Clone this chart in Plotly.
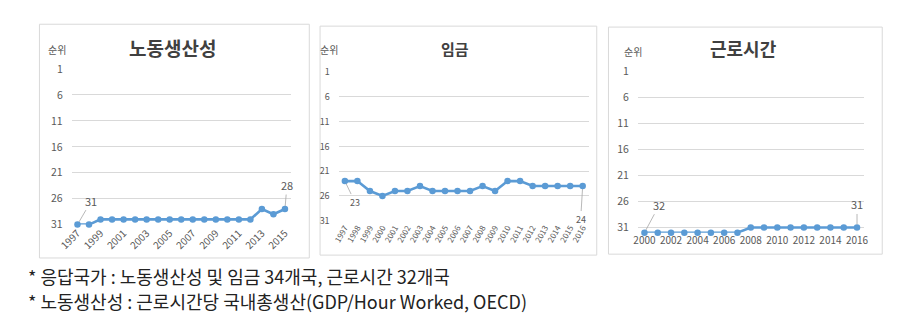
import plotly.graph_objects as go

W, H = 898, 327

# ---- data ----
years_prod = list(range(1997, 2016))
rank_prod = [31, 31, 30, 30, 30, 30, 30, 30, 30, 30, 30, 30, 30, 30, 30, 30, 28, 29, 28]

years_wage = list(range(1997, 2017))
rank_wage = [23, 23, 25, 26, 25, 25, 24, 25, 25, 25, 25, 24, 25, 23, 23, 24, 24, 24, 24, 24]

years_hours = list(range(2000, 2017))
rank_hours = [32, 32, 32, 32, 32, 32, 32, 32, 31, 31, 31, 31, 31, 31, 31, 31, 31]

y_ticks = [1, 6, 11, 16, 21, 26, 31]
titles = ["노동생산성", "임금", "근로시간"]
y_label = "순위"
notes = ["* 응답국가 : 노동생산성 및 임금 34개국, 근로시간 32개국",
         "* 노동생산성 : 근로시간당 국내총생산(GDP/Hour Worked, OECD)"]

FONT = "Noto Sans CJK KR"
BLUE = "#5B9BD5"
GRID = "#D9D9D9"
TICK = "#595959"


def px(x):
    return x / W


def py(y):
    return 1 - y / H


fig = go.Figure()

series = [
    (years_prod, rank_prod, "x", "y"),
    (years_wage, rank_wage, "x2", "y2"),
    (years_hours, rank_hours, "x3", "y3"),
]
for xs, ys, xa, ya in series:
    fig.add_trace(go.Scatter(
        x=xs, y=ys, xaxis=xa, yaxis=ya, mode="lines+markers",
        line=dict(color=BLUE, width=2.6),
        marker=dict(color=BLUE, size=6.5),
        cliponaxis=False, showlegend=False, hoverinfo="skip",
    ))

# panel geometry (pixels)
panels = [
    dict(box=(25, 17, 301, 262), xd=(58, 282), yd=(64, 227), yr=[31, 1],
         xs=years_prod, tickvals=years_prod[::2], angle=-45, tfs=10),
    dict(box=(312, 19, 595, 259), xd=(331, 587), yd=(67, 223), yr=[31, 1],
         xs=years_wage, tickvals=years_wage, angle=-60, tfs=8),
    dict(box=(607, 20, 887, 258), xd=(637, 868), yd=(66, 235.5), yr=[32, 1],
         xs=years_hours, tickvals=years_hours[::2], angle=0, tfs=10),
]

layout = {}
for i, p in enumerate(panels):
    s = "" if i == 0 else str(i + 1)
    layout["xaxis" + s] = dict(
        domain=[px(p["xd"][0]), px(p["xd"][1])],
        range=[p["xs"][0] - 0.5, p["xs"][-1] + 0.5],
        anchor="y" + s, tickvals=p["tickvals"], tickangle=p["angle"],
        showgrid=False, zeroline=False, showline=False,
        tickfont=dict(family=FONT, size=p["tfs"], color=TICK),
        fixedrange=True,
    )
    layout["yaxis" + s] = dict(
        domain=[py(p["yd"][1]), py(p["yd"][0])],
        range=p["yr"], anchor="x" + s, tickvals=y_ticks,
        showgrid=True, gridcolor=GRID, gridwidth=1, zeroline=False,
        showline=False, ticklabelstandoff=8,
        tickfont=dict(family=FONT, size=9 if i == 1 else 10.5, color=TICK),
        fixedrange=True,
    )
    b = p["box"]
    fig.add_shape(type="rect", xref="paper", yref="paper",
                  x0=px(b[0]), x1=px(b[2]), y0=py(b[3]), y1=py(b[1]),
                  line=dict(color=GRID, width=1), fillcolor="rgba(0,0,0,0)", layer="below")

fig.update_layout(**layout)

# titles and axis label
title_pos = [(161, 41, 19), (450, 42, 15), (745, 42, 18)]
ylab_pos = [(43, 44, 10), (321, 43, 10), (632, 46, 10)]
for t, (x, y, fs) in zip(titles, title_pos):
    fig.add_annotation(text=t, x=px(x), y=py(y), xref="paper", yref="paper",
                       showarrow=False,
                       font=dict(family=FONT, size=fs, color="#404040", weight="bold"),
                       xanchor="center", yanchor="middle")
for x, y, fs in ylab_pos:
    fig.add_annotation(text=y_label, x=px(x), y=py(y), xref="paper", yref="paper",
                       showarrow=False, font=dict(family=FONT, size=fs, color=TICK),
                       xanchor="center", yanchor="middle")

# data labels with leader lines
labels = [
    ("x", "y", years_prod[0], rank_prod[0], 14, -24, 11),
    ("x", "y", years_prod[-1], rank_prod[-1], 2, -24, 11),
    ("x2", "y2", years_wage[0], rank_wage[0], 10, 21, 9),
    ("x2", "y2", years_wage[-1], rank_wage[-1], -2, 33, 9),
    ("x3", "y3", years_hours[0], rank_hours[0], 15, -28, 11),
    ("x3", "y3", years_hours[-1], rank_hours[-1], 0, -23, 11),
]
for xa, ya, xv, yv, ax, ay, fs in labels:
    fig.add_annotation(x=xv, y=yv, xref=xa, yref=ya, text=str(yv),
                       showarrow=True, arrowhead=0, arrowwidth=0.8, arrowcolor="#A6A6A6",
                       ax=ax, ay=ay, standoff=3,
                       font=dict(family=FONT, size=fs, color=TICK))

# footnotes
for txt, y in zip(notes, [281, 307]):
    fig.add_annotation(text=txt, x=px(11), y=py(y), xref="paper", yref="paper",
                       showarrow=False, xanchor="left", yanchor="middle",
                       font=dict(family=FONT, size=18, color="#222222"))

fig.update_layout(
    width=W, height=H, margin=dict(l=0, r=0, t=0, b=0),
    paper_bgcolor="white", plot_bgcolor="white",
    font=dict(family=FONT),
)

fig.write_html("out.html")
